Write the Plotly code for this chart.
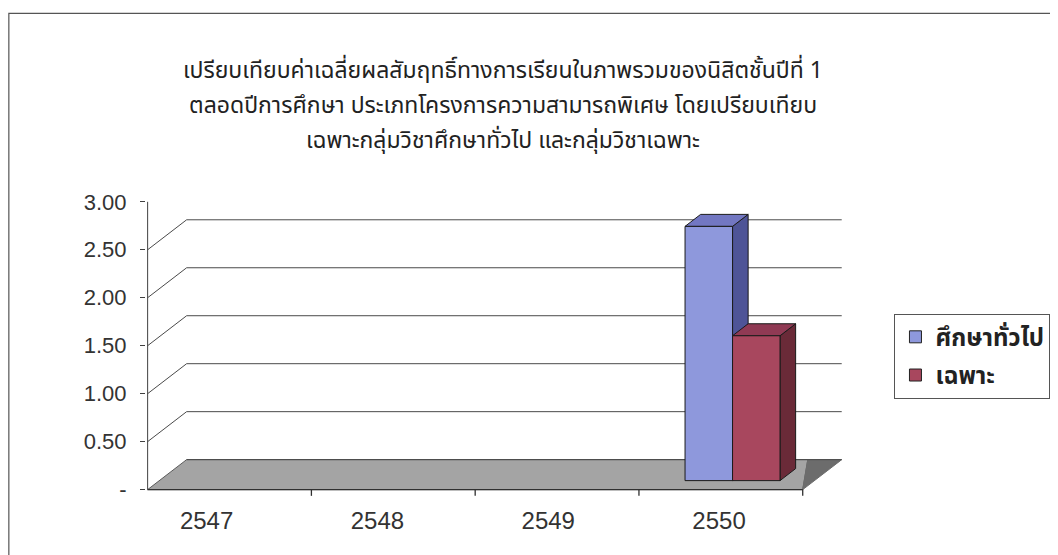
import plotly.graph_objects as go

# ---------------- data ----------------
years = ["2547", "2548", "2549", "2550"]
general_ed = [0, 0, 0, 2.65]      # ศึกษาทั่วไป
major_ed = [0, 0, 0, 1.51]        # เฉพาะ
series_names = ["ศึกษาทั่วไป", "เฉพาะ"]
y_tick_vals = [0, 0.5, 1.0, 1.5, 2.0, 2.5, 3.0]
y_tick_text = ["-", "0.50", "1.00", "1.50", "2.00", "2.50", "3.00"]
grid_vals = [0, 0.5, 1.0, 1.5, 2.0, 2.5]
title_lines = [
    "เปรียบเทียบค่าเฉลี่ยผลสัมฤทธิ์ทางการเรียนในภาพรวมของนิสิตชั้นปีที่ 1",
    "ตลอดปีการศึกษา ประเภทโครงการความสามารถพิเศษ โดยเปรียบเทียบ",
    "เฉพาะกลุ่มวิชาศึกษาทั่วไป และกลุ่มวิชาเฉพาะ",
]

# ---------------- style / projection ----------------
OFF_X, OFF_Y = 12, 8     # page offset of the figure
W, H = 1050, 547
PX_CAT = 163.75          # pixels per category unit
PX_VAL = 96.0            # pixels per value unit
X_FRONT0 = 148.0 - OFF_X # pixel of x=-0.5 at front (figure coords)
Y_FRONT0 = 490.0 - OFF_Y # pixel of value 0 at front
DX = 39 / PX_CAT         # depth offset (x) in data units
DY = 30 / PX_VAL         # depth offset (y) in data units
D_FRONT, D_BACK = 0.3, 0.7
BAR_W = 0.29
LABEL_SHIFT, LABEL_STRETCH = -0.14, 1.043
XR = [-0.51, 3.5 + DX + 0.02]
YR = [-0.15, 3.05]
L = X_FRONT0 - (XR[0] + 0.5) * PX_CAT
PW = (XR[1] - XR[0]) * PX_CAT
R = W - L - PW
PB = Y_FRONT0 - YR[0] * PX_VAL
PT = Y_FRONT0 - YR[1] * PX_VAL
T = PT
B = H - PB
PH = PB - PT

def px_to_paper_x(px):          # px given in page coordinates
    return (px - OFF_X - L) / PW

def px_to_paper_y(py):
    return (PB - (py - OFF_Y)) / PH

colors = {
    "general": dict(front="#8E98DC", top="#7277C2", side="#4E5497"),
    "major": dict(front="#A8475E", top="#903A54", side="#6A2A38"),
}
EDGE = "#1a1a1a"
NUM_FONT = "Liberation Sans, Arial, sans-serif"
THAI_FONT = "Tahoma, Noto Sans Thai, Noto Sans, DejaVu Sans, sans-serif"

fig = go.Figure()
ncat = len(years)
xi = list(range(ncat))

# floor
fl_x = [-0.5, ncat - 0.5, ncat - 0.5 + 0.13 * DX, -0.5 + DX, -0.5]
fl_y = [0, 0, DY, DY, 0]
fig.add_trace(go.Scatter(x=fl_x, y=fl_y, fill="toself", mode="lines",
                         fillcolor="#A4A4A4", line=dict(color="#5a5a5a", width=1),
                         hoverinfo="skip", showlegend=False))
fs_x = [ncat - 0.5, ncat - 0.5 + 0.13 * DX, ncat - 0.5 + DX, ncat - 0.5]
fs_y = [0, DY, DY, 0]
fig.add_trace(go.Scatter(x=fs_x, y=fs_y, fill="toself", mode="lines",
                         fillcolor="#6c6c6c", line=dict(color="#6c6c6c", width=1),
                         hoverinfo="skip", showlegend=False))

# gridlines: back wall + left wall diagonals
gx, gy = [], []
for v in grid_vals:
    gx += [-0.5 + DX, ncat - 0.5 + DX, None]
    gy += [v + DY, v + DY, None]
    if v > 0:
        gx += [-0.5, -0.5 + DX, None]
        gy += [v, v + DY, None]
fig.add_trace(go.Scatter(x=gx, y=gy, mode="lines", line=dict(color="#4a4a4a", width=1),
                         hoverinfo="skip", showlegend=False))

# axes lines & ticks
fig.add_trace(go.Scatter(x=[-0.5, -0.5], y=[0, max(y_tick_vals)], mode="lines",
                         line=dict(color="#404040", width=1), hoverinfo="skip", showlegend=False))
tx, ty = [-0.5, ncat - 0.5, None], [0, 0, None]
for i in range(ncat):
    tx += [i + 0.5, i + 0.5, None]
    ty += [0, -0.065, None]
fig.add_trace(go.Scatter(x=tx, y=ty, mode="lines", line=dict(color="#303030", width=1.3),
                         hoverinfo="skip", showlegend=False))

# 3D-looking bars
def add_bar(xl, v, c):
    if v <= 0:
        return
    xr_ = xl + BAR_W
    f, b = D_FRONT, D_BACK
    fig.add_trace(go.Scatter(
        x=[xr_ + f * DX, xr_ + b * DX, xr_ + b * DX, xr_ + f * DX, xr_ + f * DX],
        y=[f * DY, b * DY, v + b * DY, v + f * DY, f * DY],
        fill="toself", mode="lines", fillcolor=c["side"], line=dict(color=EDGE, width=1),
        hoverinfo="skip", showlegend=False))
    fig.add_trace(go.Scatter(
        x=[xl + f * DX, xr_ + f * DX, xr_ + b * DX, xl + b * DX, xl + f * DX],
        y=[v + f * DY, v + f * DY, v + b * DY, v + b * DY, v + f * DY],
        fill="toself", mode="lines", fillcolor=c["top"], line=dict(color=EDGE, width=1),
        hoverinfo="skip", showlegend=False))
    fig.add_trace(go.Scatter(
        x=[xl + f * DX, xr_ + f * DX, xr_ + f * DX, xl + f * DX, xl + f * DX],
        y=[f * DY, f * DY, v + f * DY, v + f * DY, f * DY],
        fill="toself", mode="lines", fillcolor=c["front"], line=dict(color=EDGE, width=1),
        hoverinfo="skip", showlegend=False))

for i in range(ncat):
    add_bar(i - BAR_W, general_ed[i], colors["general"])
    add_bar(i, major_ed[i], colors["major"])

# legend entries
for name, key, grp in [(series_names[0], "general", "a"), (series_names[1], "major", "b")]:
    fig.add_trace(go.Scatter(x=[None], y=[None], mode="markers", name=name, legendgroup=grp,
                             marker=dict(symbol="square", size=12, color=colors[key]["front"],
                                         line=dict(color="#222", width=1))))

# title: three lines
title_y = [71, 106, 141]
for line, py in zip(title_lines, title_y):
    fig.add_annotation(text=line, xref="paper", yref="paper",
                       x=px_to_paper_x(507), y=px_to_paper_y(py),
                       xanchor="center", yanchor="middle", showarrow=False,
                       font=dict(family=THAI_FONT, size=23, color="#222"))

# chart border
fig.add_shape(type="rect", xref="paper", yref="paper",
              x0=px_to_paper_x(OFF_X + 0.5), x1=px_to_paper_x(W + 40),
              y0=px_to_paper_y(H + 40), y1=px_to_paper_y(13.5),
              line=dict(color="#555", width=1.2), fillcolor="rgba(0,0,0,0)", layer="below")

fig.update_layout(
    width=W, height=H,
    margin=dict(l=L, r=R, t=T, b=B, pad=0, autoexpand=False),
    paper_bgcolor="white", plot_bgcolor="rgba(0,0,0,0)",
    showlegend=True,
    legend=dict(x=px_to_paper_x(898), y=px_to_paper_y(314), xanchor="left", yanchor="top",
                bgcolor="white", bordercolor="#555", borderwidth=1,
                font=dict(family=THAI_FONT, size=24, color="#222", weight="bold"),
                tracegroupgap=4, itemwidth=30),
    xaxis=dict(range=XR, showgrid=False, zeroline=False, showline=False,
               tickmode="array", tickvals=[LABEL_SHIFT + LABEL_STRETCH * i for i in xi],
               ticktext=years,
               ticks="", tickfont=dict(family=NUM_FONT, size=24, color="#333"),
               fixedrange=True, automargin=False),
    yaxis=dict(range=YR, showgrid=False, zeroline=False, showline=False,
               tickmode="array", tickvals=y_tick_vals, ticktext=y_tick_text,
               ticks="outside", ticklen=5, tickcolor="#404040",
               ticklabelstandoff=9,
               tickfont=dict(family=NUM_FONT, size=22, color="#333"),
               fixedrange=True, automargin=False),
)

fig.write_html("out.html")
